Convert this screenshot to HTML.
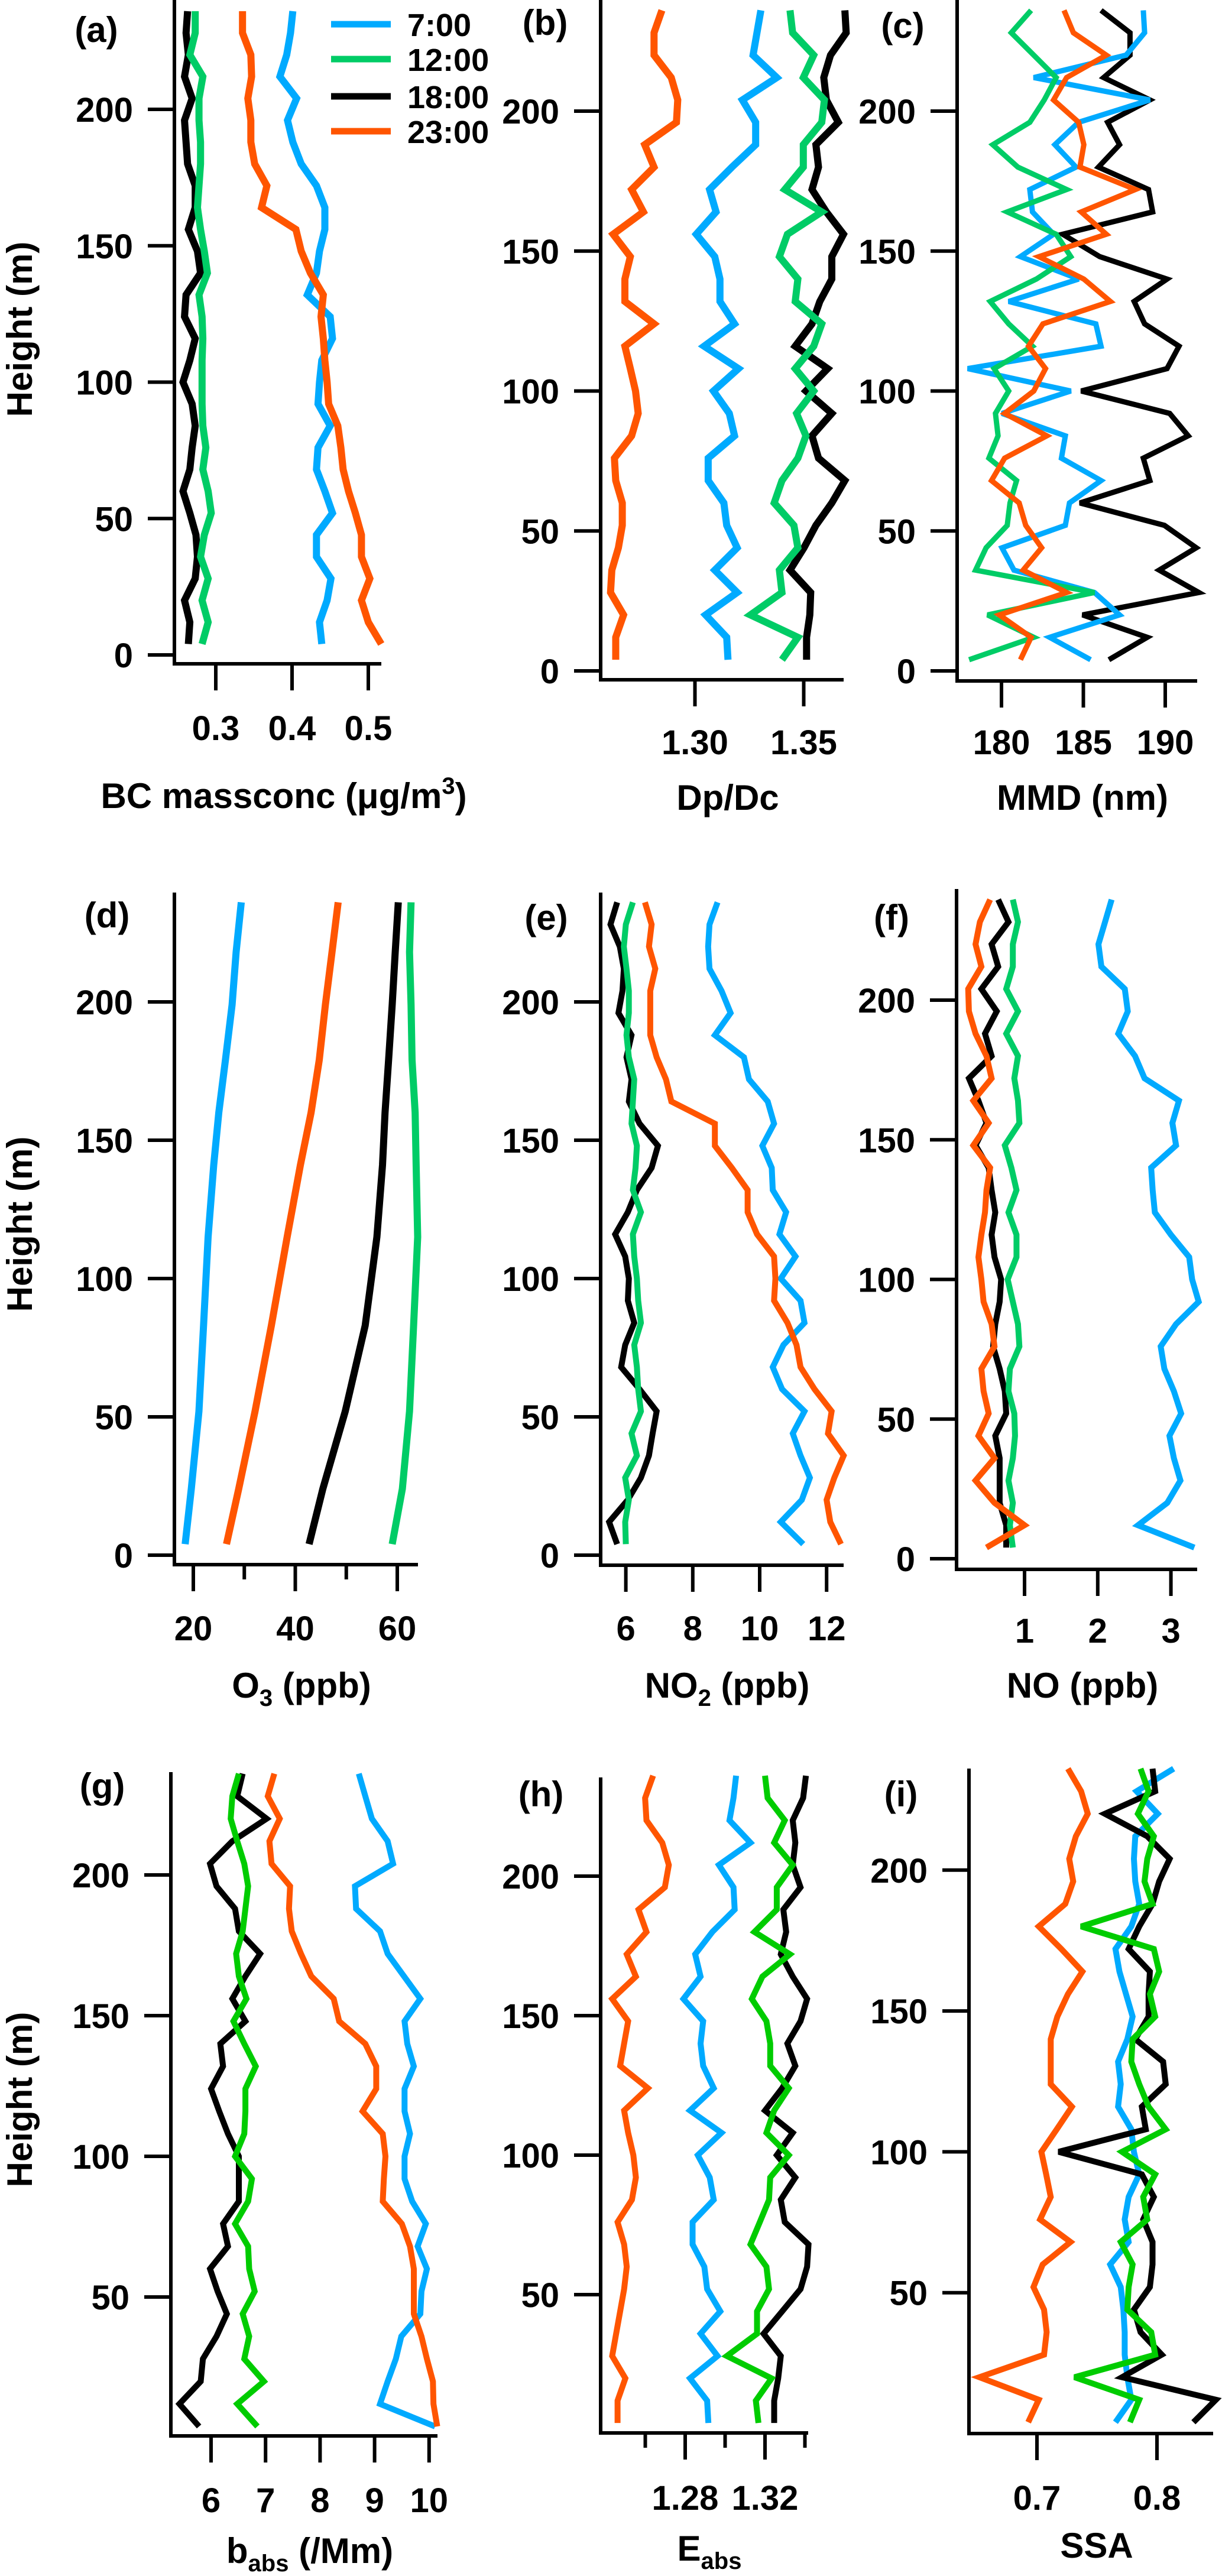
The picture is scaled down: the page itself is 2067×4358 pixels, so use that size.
<!DOCTYPE html>
<html><head><meta charset="utf-8"><style>
html,body{margin:0;padding:0;background:#fff;}
svg{display:block;font-family:"Liberation Sans",Arial,sans-serif;font-weight:bold;}
</style></head><body>
<svg id="chart" width="2067" height="4358" viewBox="0 0 2067 4358" xmlns="http://www.w3.org/2000/svg">
<g id="legend">
<line x1="560" y1="41" x2="661" y2="41" stroke="#00AAFF" stroke-width="11"/>
<text x="689" y="61" font-size="54">7:00</text>
<line x1="560" y1="100" x2="661" y2="100" stroke="#00CC66" stroke-width="11"/>
<text x="689" y="120" font-size="54">12:00</text>
<line x1="560" y1="163" x2="661" y2="163" stroke="#000" stroke-width="11"/>
<text x="689" y="183" font-size="54">18:00</text>
<line x1="560" y1="222" x2="661" y2="222" stroke="#FF5500" stroke-width="11"/>
<text x="689" y="242" font-size="54">23:00</text>
</g>
</svg>
<script>
// ---- data ----
const levels = [4,12,20,28,36,44,52,60,68,76,84,92,100,108,116,124,132,140,148,156,164,172,180,188,196,204,212,220,228,236];
const o3Levels = [4,24,52,83,115,141,160,179,199,218,236];
// (a) BC mass concentration
const bc7 = [0.439,0.436,0.446,0.451,0.432,0.432,0.453,0.443,0.432,0.434,0.450,0.434,0.436,0.439,0.453,0.450,0.420,0.432,0.436,0.443,0.443,0.432,0.412,0.401,0.394,0.406,0.384,0.393,0.398,0.401];
const bc12 = [0.282,0.290,0.282,0.290,0.280,0.285,0.294,0.290,0.283,0.287,0.283,0.282,0.282,0.282,0.283,0.282,0.278,0.289,0.285,0.280,0.276,0.278,0.280,0.280,0.278,0.278,0.283,0.266,0.273,0.273];
const bc18 = [0.264,0.266,0.259,0.273,0.276,0.274,0.266,0.257,0.266,0.269,0.273,0.269,0.257,0.266,0.273,0.259,0.261,0.280,0.276,0.264,0.273,0.273,0.263,0.261,0.259,0.269,0.259,0.264,0.261,0.263];
const bc23 = [0.517,0.500,0.491,0.502,0.491,0.491,0.483,0.474,0.467,0.464,0.460,0.448,0.446,0.443,0.441,0.438,0.441,0.424,0.412,0.405,0.360,0.367,0.351,0.346,0.346,0.342,0.347,0.346,0.335,0.335];
// (b) Dp/Dc
const dp7 = [1.3152,1.3146,1.3049,1.3194,1.3091,1.3194,1.3146,1.3133,1.3061,1.3061,1.3182,1.3158,1.3085,1.3200,1.3042,1.3182,1.3115,1.3115,1.3091,1.3006,1.3097,1.3067,1.317,1.3279,1.3279,1.3218,1.3376,1.3267,1.3285,1.3303];
const dp12 = [1.340,1.3473,1.3255,1.340,1.3388,1.3473,1.3455,1.3364,1.340,1.3473,1.351,1.3467,1.3546,1.3461,1.3546,1.3583,1.3461,1.3473,1.3388,1.3425,1.3583,1.3413,1.3498,1.3498,1.3583,1.3595,1.3498,1.3546,1.3449,1.3437];
const dp18 = [1.3513,1.3513,1.3528,1.3532,1.3437,1.3501,1.3556,1.3629,1.3689,1.3568,1.3538,1.3629,1.351,1.361,1.3461,1.3538,1.3574,1.3629,1.3629,1.3683,1.3604,1.3538,1.3568,1.3556,1.3659,1.3604,1.3592,1.3623,1.3695,1.3689];
const dp23 = [1.2636,1.2636,1.2672,1.2612,1.2618,1.2648,1.2666,1.2666,1.2636,1.263,1.2709,1.2739,1.2727,1.2703,1.2678,1.2812,1.2678,1.2678,1.2703,1.2624,1.2763,1.2709,1.2812,1.2769,1.2915,1.2921,1.2891,1.2812,1.2812,1.2848];
// (c) MMD
const mmd7 = [185.44,182.94,187.21,185.68,180.76,180.03,183.9,184.15,186.08,183.66,183.9,180.03,184.23,177.94,186.08,185.76,180.44,184.71,181.16,183.18,181.89,181.73,184.55,183.26,184.71,189.06,181.97,187.61,188.74,188.66];
const mmd12 = [178.02,181.97,179.15,185.68,178.42,179.06,180.35,180.52,180.92,179.23,179.79,179.63,180.44,179.55,181.89,180.44,179.31,182.13,184.23,183.34,180.35,183.98,181.0,179.47,181.73,182.61,183.34,181.97,180.6,181.81];
const mmd18 = [186.56,188.9,184.95,192.05,189.63,191.89,189.95,184.79,189.06,188.66,191.4,190.27,184.87,190.11,190.84,188.74,188.1,190.11,186.0,183.74,189.23,188.98,185.92,187.21,186.48,189.06,186.24,187.85,187.85,186.08];
const mmd23 = [181.16,181.81,179.87,183.98,181.32,182.45,181.48,181.08,179.39,180.19,182.77,180.19,181.97,182.69,181.65,182.53,186.65,185.03,182.29,186.4,184.87,188.18,184.79,185.03,184.71,183.18,183.98,186.4,184.39,183.82];
// (d) O3
const o37 = [18.4,19.6,21.1,22.0,22.9,24.0,25.0,26.3,27.6,28.4,29.4];
const o312 = [59.0,61.0,62.4,63.2,64.0,63.7,63.5,62.9,62.7,62.4,62.7];
const o318 = [42.7,45.4,49.8,53.7,56.0,57.1,57.6,58.3,59.0,59.6,60.2];
const o323 = [26.5,28.9,32.1,35.3,38.4,41.0,43.1,44.7,45.9,47.2,48.4];
// (e) NO2
const no27 = [11.30,10.63,11.26,11.50,11.22,10.99,11.34,10.67,10.39,10.71,11.34,11.22,10.63,11.07,10.59,10.79,10.39,10.36,10.08,10.43,10.24,9.68,9.53,8.66,9.13,8.86,8.50,8.46,8.50,8.74];
const no212 = [6.0,5.98,6.09,5.98,6.33,6.17,6.45,6.37,6.33,6.25,6.45,6.37,6.33,6.25,6.21,6.45,6.21,6.29,6.33,6.17,6.21,6.25,6.09,6.02,6.09,6.09,6.02,5.94,6.0,6.21];
const no218 = [5.74,5.50,6.06,6.45,6.69,6.80,6.92,6.41,5.86,5.98,6.25,6.06,6.09,5.98,5.68,6.06,6.33,6.77,6.96,6.41,6.09,6.17,6.02,6.17,5.78,5.90,5.94,5.82,5.54,5.74];
const no223 = [12.43,12.11,12.0,12.23,12.51,12.04,12.15,11.64,11.22,11.10,10.83,10.43,10.47,10.43,9.92,9.64,9.64,9.17,8.66,8.66,7.36,7.20,6.92,6.73,6.73,6.73,6.88,6.69,6.77,6.57];
// (f) NO
const no7 = [3.32,2.55,2.95,3.13,3.04,2.98,3.14,3.04,2.91,2.86,3.07,3.38,3.29,3.25,3.0,2.78,2.75,2.73,3.07,3.02,3.11,2.64,2.51,2.28,2.41,2.37,2.05,2.01,2.10,2.19];
const no12 = [0.84,0.80,0.84,0.78,0.84,0.87,0.86,0.78,0.80,0.93,0.91,0.84,0.77,0.89,0.89,0.78,0.89,0.82,0.73,0.93,0.91,0.86,0.91,0.75,0.91,0.75,0.84,0.84,0.91,0.84];
const no18 = [0.75,0.75,0.66,0.66,0.66,0.60,0.75,0.73,0.66,0.57,0.60,0.66,0.68,0.59,0.55,0.60,0.55,0.51,0.33,0.48,0.37,0.24,0.55,0.46,0.62,0.41,0.64,0.55,0.78,0.64];
const no23 = [0.48,1.0,0.59,0.33,0.59,0.37,0.51,0.44,0.41,0.59,0.55,0.44,0.41,0.37,0.41,0.46,0.48,0.53,0.30,0.51,0.30,0.55,0.48,0.33,0.24,0.23,0.41,0.33,0.39,0.53];
// (g) babs
const babs7 = [10.11,9.10,9.24,9.39,9.49,9.84,9.86,9.96,9.79,9.94,9.69,9.55,9.55,9.65,9.55,9.55,9.72,9.60,9.55,9.84,9.54,9.24,9.10,8.66,8.64,9.34,9.24,8.95,8.83,8.71];
const babs12 = [6.85,6.48,6.97,6.61,6.70,6.58,6.80,6.70,6.68,6.44,6.68,6.75,6.44,6.61,6.63,6.63,6.82,6.61,6.41,6.65,6.51,6.46,6.58,6.63,6.68,6.61,6.48,6.36,6.39,6.51];
const babs18 = [5.78,5.42,5.81,5.85,6.10,6.29,6.12,5.98,6.31,6.22,6.51,6.51,6.51,6.31,6.15,6.0,6.22,6.17,6.63,6.39,6.63,6.90,6.51,6.44,6.10,5.98,6.39,7.02,6.48,6.58];
const babs23 = [10.15,10.08,10.07,9.96,9.86,9.72,9.72,9.72,9.65,9.50,9.15,9.17,9.20,9.15,8.78,9.03,9.03,8.83,8.35,8.25,7.84,7.65,7.48,7.43,7.45,7.11,7.07,7.26,7.04,7.16];
// (h) Eabs
const eabs7 = [1.2916,1.2910,1.2824,1.2962,1.2877,1.2976,1.2910,1.2896,1.2837,1.2837,1.2943,1.2923,1.2863,1.2982,1.2824,1.2943,1.2890,1.2877,1.2890,1.2791,1.2877,1.2850,1.2936,1.3048,1.3042,1.2969,1.3127,1.3022,1.3042,1.3055];
const eabs12 = [1.3167,1.3154,1.3233,1.3009,1.3160,1.3160,1.3220,1.3207,1.3127,1.3174,1.3220,1.3226,1.3319,1.3207,1.3246,1.3319,1.3226,1.3226,1.3207,1.3134,1.3187,1.3325,1.3147,1.3259,1.3259,1.3339,1.3246,1.3299,1.3213,1.3200];
const eabs18 = [1.3246,1.3246,1.3266,1.3279,1.3193,1.3286,1.3378,1.3411,1.3418,1.3299,1.3279,1.3352,1.3259,1.3339,1.3200,1.3286,1.3352,1.3312,1.3378,1.3411,1.3339,1.3279,1.3306,1.3292,1.3378,1.3339,1.3352,1.3339,1.3391,1.3405];
const eabs23 = [1.2461,1.2461,1.2500,1.2434,1.2454,1.2474,1.2494,1.2507,1.2494,1.2461,1.2533,1.2553,1.2540,1.2514,1.2494,1.2613,1.2474,1.2494,1.2514,1.2434,1.2553,1.2507,1.2606,1.2566,1.2698,1.2718,1.2685,1.2606,1.2599,1.2639];
// (i) SSA
const ssa7 = [0.7654,0.7786,0.7753,0.7731,0.7731,0.772,0.7698,0.761,0.7764,0.7731,0.7764,0.7852,0.7808,0.7786,0.7676,0.7698,0.7676,0.7753,0.7797,0.7742,0.7687,0.7654,0.7786,0.7852,0.7819,0.7808,0.7819,0.8007,0.783,0.8139];
const ssa12 = [0.7775,0.7852,0.7313,0.7985,0.7952,0.7753,0.7764,0.7797,0.7698,0.7919,0.7885,0.7985,0.7709,0.8073,0.793,0.7852,0.7786,0.7797,0.7985,0.7941,0.8018,0.7974,0.7368,0.7963,0.7896,0.7919,0.7974,0.7841,0.793,0.7863];
const ssa18 = [0.8304,0.8491,0.7709,0.804,0.7863,0.7808,0.7941,0.7963,0.7963,0.7885,0.7974,0.7874,0.7181,0.7907,0.7874,0.8073,0.8051,0.7819,0.793,0.793,0.7941,0.7764,0.7852,0.7963,0.8018,0.8106,0.7919,0.7566,0.7985,0.7963];
const ssa23 = [0.6927,0.7015,0.652,0.7059,0.7081,0.7059,0.6971,0.7048,0.728,0.7026,0.7115,0.7077,0.7037,0.7165,0.7291,0.7115,0.7115,0.7115,0.717,0.7258,0.7379,0.7203,0.7015,0.7236,0.7302,0.7269,0.7324,0.7423,0.7368,0.7258];
// tick labels
const yTicksFull = [0,50,100,150,200];
const yTicksNoZero = [50,100,150,200];
const xTicksA = [0.3,0.4,0.5];
const xTicksB = [1.30,1.35];
const xTicksC = [180,185,190];
const xTicksD = [20,40,60];
const xMinorD = [30,50];
const xTicksE = [6,8,10,12];
const xTicksF = [1,2,3];
const xTicksG = [6,7,8,9,10];
const xTicksH = [1.28,1.32];
const xMinorH = [1.26,1.30,1.34];
const xTicksI = [0.7,0.8];

const NS = "http://www.w3.org/2000/svg";
const svg = document.getElementById("chart");
const COL7 = "#00AAFF", COL18 = "#000000", COL23 = "#FF5500";

function mk(tag, attrs, parent){
  const e = document.createElementNS(NS, tag);
  for (const k in attrs) e.setAttribute(k, attrs[k]);
  parent.appendChild(e);
  return e;
}

function panel(p){
  const g = mk("g", {}, svg);
  
  
  const xs = v => p.px + (v - p.vref) * p.ppu;
  const ys = h => p.y0 - h * p.ppm;
  const ya = mk("line", {x1:p.x0, y1:p.top, x2:p.x0, y2:p.axisY+3, stroke:"#000","stroke-width":6}, g);
  
  
  const xa = mk("line", {x1:p.x0-3, y1:p.axisY, x2:p.xEnd, y2:p.axisY, stroke:"#000","stroke-width":6}, g);
  
  
  p.yt.forEach(t => {
    const y = ys(t);
    const tl = mk("line", {x1:p.x0-45, y1:y, x2:p.x0, y2:y, stroke:"#000","stroke-width":6}, g);
    
    
    const tx = mk("text", {x:p.x0-70, y:y+21, "font-size":58, "text-anchor":"end"}, g);
    
    
    tx.textContent = String(t);
  });
  p.xt.forEach((t, i) => {
    const x = xs(t);
    const tl = mk("line", {x1:x, y1:p.axisY+3, x2:x, y2:p.axisY+45, stroke:"#000","stroke-width":6}, g);
    
    
    const tx = mk("text", {x:x, y:p.labY, "font-size":58, "text-anchor":"middle"}, g);
    
    
    tx.textContent = p.xl[i];
  });
  (p.xm || []).forEach(t => {
    const x = xs(t);
    const tl = mk("line", {x1:x, y1:p.axisY+3, x2:x, y2:p.axisY+25, stroke:"#000","stroke-width":6}, g);
    
    
  });
  p.series.forEach(s => {
    const pts = s.v.map((v, i) => xs(v).toFixed(1) + "," + ys(s.h[i]).toFixed(1)).join(" ");
    const pl = mk("polyline", {points:pts, fill:"none", stroke:s.c, "stroke-width":p.sw || 11, "stroke-linejoin":"miter", "stroke-miterlimit":3}, g);
    
    
  });
  const lt = mk("text", {x:p.lx, y:p.ly+21, "font-size":60, "text-anchor":"middle"}, g);
  
  
  lt.textContent = "(" + p.id + ")";
  const tt = mk("text", {x:p.tx, y:p.tY, "font-size":60, "text-anchor":"middle"}, g);
  
  
  tt.innerHTML = p.title;
}

function S(n, c, v, h){ return {n:n, c:c, v:v, h:h || levels}; }

const G1 = "#00CC66", G3 = "#00CC00";
panel({id:"a", x0:295, xEnd:645, top:0, axisY:1123, y0:1108, ppm:4.615, px:365, vref:0.3, ppu:1290, sw:12,
  yt:yTicksFull, xt:xTicksA, xl:xTicksA.map(v=>v.toFixed(1)), labY:1252, tY:1367, tx:480, lx:163, ly:50,
  title:'BC massconc (μg/m<tspan dy="-24" font-size="40">3</tspan><tspan dy="24">)</tspan>',
  series:[S("18h",COL18,bc18),S("12h",G1,bc12),S("7h",COL7,bc7),S("23h",COL23,bc23)]});
panel({id:"b", x0:1016, xEnd:1427, top:0, axisY:1150, y0:1135, ppm:4.735, px:1175.5, vref:1.30, ppu:3680, sw:12,
  yt:yTicksFull, xt:xTicksB, xl:xTicksB.map(v=>v.toFixed(2)), labY:1276, tY:1370, tx:1231, lx:922, ly:38,
  title:'Dp/Dc',
  series:[S("18h",COL18,dp18),S("12h",G1,dp12),S("7h",COL7,dp7),S("23h",COL23,dp23)]});
panel({id:"c", x0:1619, xEnd:2025, top:0, axisY:1152, y0:1135, ppm:4.735, px:1694, vref:180, ppu:27.7, sw:9,
  yt:yTicksFull, xt:xTicksC, xl:xTicksC.map(String), labY:1276, tY:1370, tx:1831, lx:1527, ly:43,
  title:'MMD (nm)',
  series:[S("18h",COL18,mmd18),S("7h",COL7,mmd7),S("12h",G1,mmd12),S("23h",COL23,mmd23)]});
panel({id:"d", x0:295, xEnd:707, top:1510, axisY:2647, y0:2631, ppm:4.68, px:327, vref:20, ppu:8.625, sw:12,
  yt:yTicksFull, xt:xTicksD, xm:xMinorD, xl:xTicksD.map(String), labY:2775, tY:2872, tx:510, lx:181, ly:1548,
  title:'O<tspan dy="14" font-size="40">3</tspan><tspan dy="-14"> (ppb)</tspan>',
  series:[S("7h",COL7,o37,o3Levels),S("23h",COL23,o323,o3Levels),S("18h",COL18,o318,o3Levels),S("12h",G1,o312,o3Levels)]});
panel({id:"e", x0:1016, xEnd:1427, top:1510, axisY:2648, y0:2631, ppm:4.68, px:1058.6, vref:6, ppu:56.6, sw:10,
  yt:yTicksFull, xt:xTicksE, xl:xTicksE.map(String), labY:2775, tY:2872, tx:1230, lx:924, ly:1552,
  title:'NO<tspan dy="14" font-size="40">2</tspan><tspan dy="-14"> (ppb)</tspan>',
  series:[S("18h",COL18,no218),S("12h",G1,no212),S("7h",COL7,no27),S("23h",COL23,no223)]});
panel({id:"f", x0:1618, xEnd:2025, top:1504, axisY:2655, y0:2637, ppm:4.725, px:1733, vref:1, ppu:123.8, sw:10,
  yt:yTicksFull, xt:xTicksF, xl:xTicksF.map(String), labY:2779, tY:2872, tx:1831, lx:1508, ly:1552,
  title:'NO (ppb)',
  series:[S("18h",COL18,no18),S("12h",G1,no12),S("7h",COL7,no7),S("23h",COL23,no23)]});
panel({id:"g", x0:289, xEnd:740, top:2998, axisY:4121, y0:4124, ppm:4.76, px:357, vref:6, ppu:92.2, sw:10,
  yt:yTicksNoZero, xt:xTicksG, xl:xTicksG.map(String), labY:4250, tY:4336, tx:524, lx:173, ly:3021,
  title:'b<tspan dy="14" font-size="40">abs</tspan><tspan dy="-14"> (/Mm)</tspan>',
  series:[S("18h",COL18,babs18),S("12h",G3,babs12),S("7h",COL7,babs7),S("23h",COL23,babs23)]});
panel({id:"h", x0:1016, xEnd:1367, top:3007, axisY:4116, y0:4118, ppm:4.72, px:1159, vref:1.28, ppu:3375, sw:10,
  yt:yTicksNoZero, xt:xTicksH, xm:xMinorH, xl:xTicksH.map(v=>v.toFixed(2)), labY:4246, tY:4332, tx:1200, lx:915, ly:3035,
  title:'E<tspan dy="14" font-size="40">abs</tspan>',
  series:[S("18h",COL18,eabs18),S("12h",G3,eabs12),S("7h",COL7,eabs7),S("23h",COL23,eabs23)]});
panel({id:"i", x0:1639, xEnd:2052, top:2992, axisY:4117, y0:4117, ppm:4.766, px:1754, vref:0.7, ppu:2030, sw:10,
  yt:yTicksNoZero, xt:xTicksI, xl:xTicksI.map(v=>v.toFixed(1)), labY:4246, tY:4327, tx:1855, lx:1524, ly:3035,
  title:'SSA',
  series:[S("7h",COL7,ssa7),S("18h",COL18,ssa18),S("12h",G3,ssa12),S("23h",COL23,ssa23)]});

[557, 2071, 3552].forEach((cy, i) => {
  const t = mk("text", {x:0, y:0, "font-size":60, "text-anchor":"middle", transform:"translate(54," + cy + ") rotate(-90)"}, svg);
  
  
  t.textContent = "Height (m)";
});
</script>
</body></html>
